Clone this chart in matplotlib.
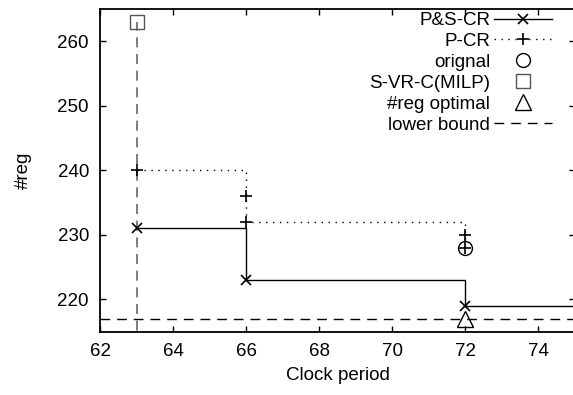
import matplotlib
matplotlib.use("Agg")
import matplotlib.pyplot as plt

plt.rcParams['font.family'] = ['Liberation Sans', 'DejaVu Sans']
plt.rcParams['font.size'] = 13.5

# data
ps_clock = [63, 66, 72, 76]
ps_reg = [231, 223, 219, 219]

p_clock = [63, 66, 66, 72, 72]
p_reg = [240, 236, 232, 230, 228]

orig_clock = [72]
orig_reg = [228]

milp_clock = [63]
milp_reg = [263]

opt_clock = [72]
opt_reg = [217]

lb_clock = 63
lb_reg = 217

xticks = [62, 64, 66, 68, 70, 72, 74]
yticks = [220, 230, 240, 250, 260]

fig = plt.figure(figsize=(5.73, 3.95), dpi=100)
ax = fig.add_axes([100 / 573, 1 - 331.7 / 395, 475 / 573, 322.7 / 395])

ax.vlines(lb_clock, 210, milp_reg[0], colors='#666666', linestyles=(0, (6, 4)), lw=1.2)

ax.plot(ps_clock, ps_reg, drawstyle='steps-post', color='black', lw=1,
        marker='x', ms=7, mew=1.2, label='P&S-CR')
ax.plot(p_clock, p_reg, drawstyle='steps-post', color='black', lw=1,
        ls=(0, (1, 4)), marker='+', ms=9, mew=1.2, label='P-CR')
ax.plot(orig_clock, orig_reg, ls='none', marker='o', ms=10, mfc='none',
        mec='black', mew=1, label='orignal')
ax.plot(milp_clock, milp_reg, ls='none', marker='s', ms=10, mfc='none',
        mec='#555555', mew=1, label='S-VR-C(MILP)')
ax.plot(opt_clock, opt_reg, ls='none', marker='^', ms=11, mfc='none',
        mec='black', mew=1, label='#reg optimal')
ax.axhline(lb_reg, color='black', lw=1, ls=(0, (7, 5)), label='lower bound')

ax.set_xlim(62, 75)
ax.set_ylim(215, 265)
ax.set_xticks(xticks)
ax.set_yticks(yticks)
ax.tick_params(direction='in', length=4, width=1, top=True, right=True, pad=8)
for s in ax.spines.values():
    s.set_linewidth(1.3)

ax.set_xlabel('Clock period', labelpad=5)
ax.set_ylabel('#reg', labelpad=18)

ax.legend(loc='upper right', bbox_to_anchor=(552 / 573, 1 - 12 / 395),
          bbox_transform=fig.transFigure, frameon=False, markerfirst=False,
          borderpad=0, borderaxespad=0, handlelength=3.1, handletextpad=0.2,
          labelspacing=0.2)

fig.savefig('out.png', dpi=100)
